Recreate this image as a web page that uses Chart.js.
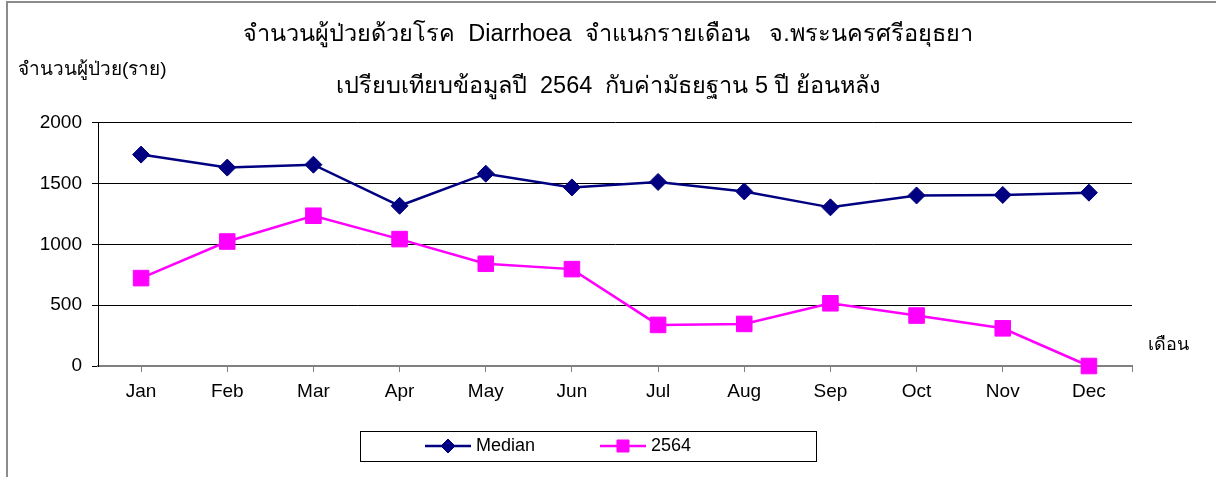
<!DOCTYPE html>
<html>
<head>
<meta charset="utf-8">
<script src="https://cdn.jsdelivr.net/npm/chart.js"></script>
<style>
  body { margin: 0; background: #fff; }
  canvas { display: block; }
</style>
</head>
<body>
<canvas id="chart" width="1216" height="477"></canvas>
<script>
// ข้อมูล
const months = ['Jan', 'Feb', 'Mar', 'Apr', 'May', 'Jun', 'Jul', 'Aug', 'Sep', 'Oct', 'Nov', 'Dec'];
const medianValues = [1739, 1632, 1656, 1318, 1582, 1469, 1514, 1436, 1305, 1403, 1407, 1426];
const values2564 = [723, 1024, 1236, 1044, 841, 797, 338, 346, 516, 415, 310, 0];
const yTicks = [0, 500, 1000, 1500, 2000];

const titleLines = [
  'จำนวนผู้ป่วยด้วยโรค  Diarrhoea  จำแนกรายเดือน   จ.พระนครศรีอยุธยา',
  'เปรียบเทียบข้อมูลปี  2564  กับค่ามัธยฐาน 5 ปี ย้อนหลัง'
];
const yTitle = 'จำนวนผู้ป่วย(ราย)';
const xTitle = 'เดือน';

const FONT = 'Arial, "Liberation Sans", sans-serif';

// กรอบ + ข้อความแกน + legend
const decorPlugin = {
  id: 'decor',
  beforeDraw(chart) {
    const ctx = chart.ctx;
    ctx.save();
    ctx.fillStyle = '#fff';
    ctx.fillRect(0, 0, chart.width, chart.height);
    ctx.strokeStyle = '#8c8c8c';
    ctx.lineWidth = 2;
    ctx.beginPath();
    ctx.moveTo(7, chart.height);
    ctx.lineTo(7, 2);
    ctx.lineTo(chart.width, 2);
    ctx.stroke();
    ctx.restore();
  },
  afterDraw(chart) {
    const ctx = chart.ctx;
    const area = chart.chartArea;
    ctx.save();
    ctx.fillStyle = '#000';
    ctx.textBaseline = 'middle';
    ctx.font = '19px ' + FONT;
    ctx.textAlign = 'left';
    ctx.fillText(yTitle, 18, 70);
    ctx.font = '18px ' + FONT;
    ctx.fillText(xTitle, area.right + 16, 345);

    // ขีดท้ายแกน x
    ctx.strokeStyle = '#808080';
    ctx.lineWidth = 1;
    ctx.beginPath();
    ctx.moveTo(area.right + 0.5, area.bottom);
    ctx.lineTo(area.right + 0.5, area.bottom + 6);
    ctx.stroke();

    // legend
    ctx.strokeStyle = '#000';
    ctx.strokeRect(360.5, 431.5, 456, 30);
    const xs = [425, 600];
    chart.data.datasets.forEach((ds, i) => {
      const x = xs[i], y = 446;
      ctx.strokeStyle = ds.borderColor;
      ctx.fillStyle = ds.pointBackgroundColor;
      ctx.lineWidth = 2.5;
      ctx.beginPath();
      ctx.moveTo(x, y);
      ctx.lineTo(x + 46, y);
      ctx.stroke();
      ctx.lineWidth = 1;
      Chart.helpers.drawPoint(ctx, {
        pointStyle: ds.pointStyle,
        radius: ds.pointStyle === 'rect' ? 8.5 : 7,
        rotation: 0,
        borderWidth: 1
      }, x + 23, y);
      ctx.fillStyle = '#000';
      ctx.font = '18px ' + FONT;
      ctx.textAlign = 'left';
      ctx.fillText(ds.label, x + 51, y);
    });
    ctx.restore();
  }
};

const ctx = document.getElementById('chart').getContext('2d');
const chart = new Chart(ctx, {
  type: 'line',
  data: {
    labels: months,
    datasets: [
      {
        label: 'Median',
        data: medianValues,
        borderColor: '#000080',
        backgroundColor: '#000080',
        pointBackgroundColor: '#000080',
        pointBorderColor: '#000080',
        borderWidth: 2.5,
        pointStyle: 'rectRot',
        pointRadius: 8.5,
        pointBorderWidth: 1,
        tension: 0,
        clip: false
      },
      {
        label: '2564',
        data: values2564,
        borderColor: '#FF00FF',
        backgroundColor: '#FF00FF',
        pointBackgroundColor: '#FF00FF',
        pointBorderColor: '#FF00FF',
        borderWidth: 2.5,
        pointStyle: 'rect',
        pointRadius: 11,
        pointBorderWidth: 1,
        tension: 0,
        clip: false
      }
    ]
  },
  options: {
    responsive: false,
    animation: false,
    layout: { padding: 0 },
    plugins: {
      legend: { display: false },
      tooltip: { enabled: false },
      title: {
        display: true,
        text: titleLines,
        color: '#000',
        font: { family: FONT, size: 23.5, weight: 'normal', lineHeight: 2.21 },
        padding: { top: 9, bottom: 10 }
      }
    },
    scales: {
      x: {
        offset: true,
        grid: {
          offset: false,
          drawOnChartArea: false,
          drawTicks: true,
          tickLength: 6,
          color: '#808080'
        },
        border: { display: true, color: '#808080', width: 2 },
        ticks: {
          color: '#000',
          padding: 8,
          maxRotation: 0,
          font: { family: FONT, size: 19 }
        },
        afterFit(scale) { scale.height = 111; }
      },
      y: {
        min: 0,
        max: 2000,
        afterBuildTicks(scale) { scale.ticks = yTicks.map(v => ({ value: v })); },
        grid: {
          color: c => (c.tick && c.tick.value === 0) ? 'rgba(0,0,0,0)' : '#000',
          tickColor: '#000',
          tickLength: 6,
          lineWidth: 1
        },
        border: { display: true, color: '#000', width: 1 },
        ticks: {
          color: '#000',
          padding: 10,
          font: { family: FONT, size: 19 },
          callback: v => String(v)
        },
        afterFit(scale) { scale.width = 98; }
      },
      yRight: {
        position: 'right',
        display: true,
        grid: { display: false },
        border: { display: false },
        ticks: { display: false },
        afterFit(scale) { scale.width = 84; }
      }
    }
  },
  plugins: [decorPlugin]
});
</script>
</body>
</html>
